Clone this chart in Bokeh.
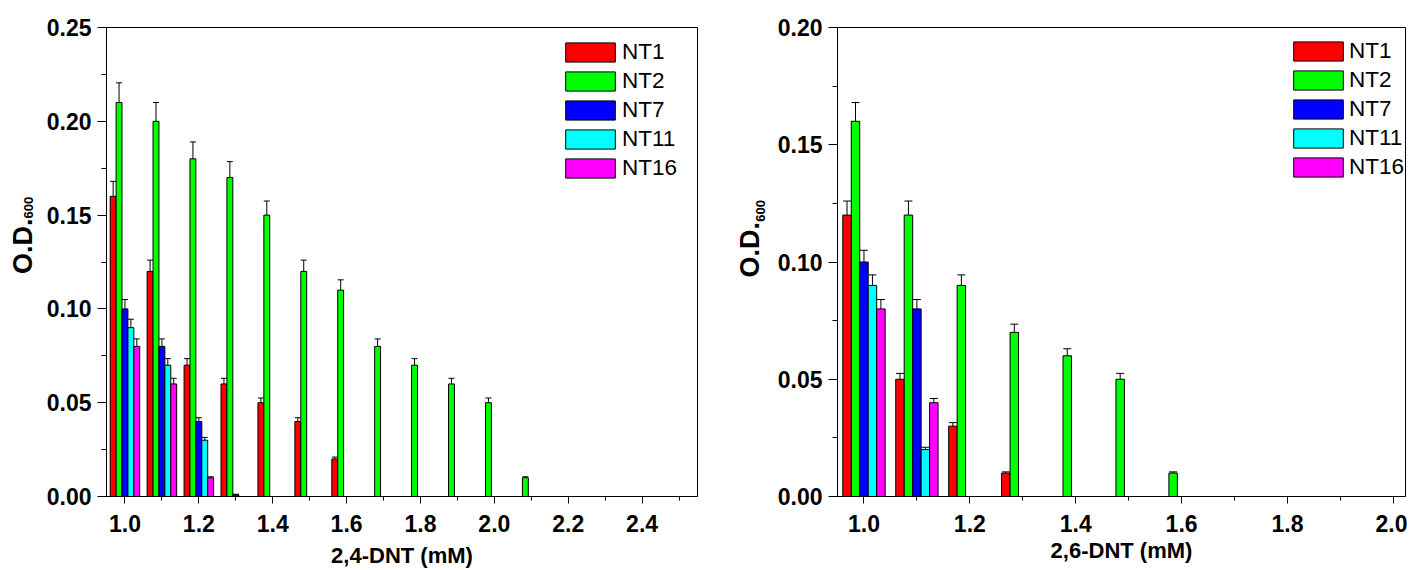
from bokeh.plotting import figure
from bokeh.models import (ColumnDataSource, Range1d, SingleIntervalTicker, NumeralTickFormatter,
                          Whisker, TeeHead, Legend, LegendItem, Label)
from bokeh.transform import dodge
from bokeh.layouts import row
from bokeh.embed import file_html
from bokeh.resources import INLINE

# ---------------- data ----------------
series_names = ["NT1", "NT2", "NT7", "NT11", "NT16"]
series_colors = ["#ff0000", "#00ff00", "#0000ff", "#00ffff", "#ff00ff"]

# 2,4-DNT panel
conc_24 = [1.0, 1.1, 1.2, 1.3, 1.4, 1.5, 1.6, 1.7, 1.8, 1.9, 2.0, 2.1]
od24_nt1 = [0.16, 0.12, 0.07, 0.06, 0.05, 0.04, 0.02]
od24_nt2 = [0.21, 0.20, 0.18, 0.17, 0.15, 0.12, 0.11, 0.08, 0.07, 0.06, 0.05, 0.01]
od24_nt7 = [0.10, 0.08, 0.04, 0.001]
od24_nt11 = [0.09, 0.07, 0.03]
od24_nt16 = [0.08, 0.06, 0.01]
err24_nt1 = [0.008, 0.006, 0.0035, 0.003, 0.0025, 0.002, 0.001]
err24_nt2 = [0.0105, 0.010, 0.009, 0.0085, 0.0075, 0.006, 0.0055, 0.004, 0.0035, 0.003, 0.0025, 0.0005]
err24_nt7 = [0.005, 0.004, 0.002, 0.0002]
err24_nt11 = [0.0045, 0.0035, 0.0015]
err24_nt16 = [0.004, 0.003, 0.0005]

# 2,6-DNT panel
conc_26 = [1.0, 1.1, 1.2, 1.3, 1.4, 1.5, 1.6]
od26_nt1 = [0.12, 0.05, 0.03, 0.01]
od26_nt2 = [0.16, 0.12, 0.09, 0.07, 0.06, 0.05, 0.01]
od26_nt7 = [0.10, 0.08]
od26_nt11 = [0.09, 0.02]
od26_nt16 = [0.08, 0.04]
err26_nt1 = [0.006, 0.0025, 0.0015, 0.0005]
err26_nt2 = [0.008, 0.006, 0.0045, 0.0035, 0.003, 0.0025, 0.0005]
err26_nt7 = [0.005, 0.004]
err26_nt11 = [0.0045, 0.001]
err26_nt16 = [0.004, 0.0018]

bar_w = 0.016
offsets = [-2 * bar_w, -bar_w, 0.0, bar_w, 2 * bar_w]

FONT = "Liberation Sans"
H = 570


def make_panel(conc, vals, errs, x_rng, y_rng, xtitle, width,
               mb_left, mb_right, mb_top, mb_bottom, legend_xy, legend_standoff,
               head_size, title_standoff):
    p = figure(width=width, height=H, output_backend="svg", toolbar_location=None,
               x_range=Range1d(*x_rng), y_range=Range1d(*y_rng),
               min_border_left=mb_left, min_border_right=mb_right,
               min_border_top=mb_top, min_border_bottom=mb_bottom)
    p.grid.visible = False
    p.outline_line_color = "black"
    p.outline_line_width = 1

    items = []
    for name, color, v, e, off in zip(series_names, series_colors, vals, errs, offsets):
        n = len(v)
        src = ColumnDataSource(dict(
            conc=conc[:n], od=v,
            upper=[a + b for a, b in zip(v, e)],
            lower=[a - b for a, b in zip(v, e)],
        ))
        r = p.vbar(x=dodge("conc", off, range=None), top="od", width=bar_w, bottom=0,
                   source=src, fill_color=color, line_color="black", line_width=1)
        w = Whisker(source=src, base=dodge("conc", off, range=None), upper="upper", lower="lower",
                    line_color="black", line_width=1,
                    upper_head=TeeHead(size=head_size, line_color="black", line_width=1),
                    lower_head=TeeHead(size=head_size, line_color="black", line_width=1))
        p.add_layout(w)
        items.append(LegendItem(label=name, renderers=[r]))

    leg = Legend(items=items, location=legend_xy, padding=0, margin=0, spacing=3,
                 glyph_width=62, glyph_height=24, label_height=19, label_standoff=legend_standoff,
                 label_text_font=FONT, label_text_font_size="22.5px", label_text_color="black",
                 border_line_alpha=0, background_fill_alpha=0)
    p.add_layout(leg, "center")

    xa = p.xaxis[0]
    xa.ticker = SingleIntervalTicker(interval=0.2, num_minor_ticks=2)
    xa.formatter = NumeralTickFormatter(format="0.0")
    xa.axis_label = xtitle
    xa.axis_label_text_font = FONT
    xa.axis_label_text_font_style = "bold"
    xa.axis_label_text_font_size = "22px"
    xa.axis_label_text_color = "black"
    xa.axis_label_standoff = title_standoff
    ya = p.yaxis[0]
    ya.ticker = SingleIntervalTicker(interval=0.05, num_minor_ticks=2)
    ya.formatter = NumeralTickFormatter(format="0.00")
    for ax, tout, mout, stand in ((xa, 7, 4, 11), (ya, 9, 5, 6)):
        ax.major_tick_in = 0
        ax.major_tick_out = tout
        ax.minor_tick_in = 0
        ax.minor_tick_out = mout
        ax.major_tick_line_color = "black"
        ax.minor_tick_line_color = "black"
        ax.axis_line_color = "black"
        ax.major_label_text_font = FONT
        ax.major_label_text_font_style = "bold"
        ax.major_label_text_font_size = "23px"
        ax.major_label_text_color = "black"
        ax.major_label_standoff = stand
    return p


def ytitle_strip(width, main_xy, sub_xy):
    """Narrow strip holding the rotated y-axis title O.D. with subscript 600."""
    f = figure(width=width, height=H, output_backend="svg", toolbar_location=None,
               x_range=Range1d(0, width), y_range=Range1d(0, H),
               x_axis_location=None, y_axis_location=None, min_border=0)
    f.grid.visible = False
    f.outline_line_color = None
    f.add_layout(Label(x=main_xy[0], y=main_xy[1], text="O.D.", angle=90, angle_units="deg",
                       text_align="center", text_baseline="middle", text_font=FONT,
                       text_font_style="bold", text_font_size="27px", text_color="black"))
    f.add_layout(Label(x=sub_xy[0], y=sub_xy[1], text="600", angle=90, angle_units="deg",
                       text_align="center", text_baseline="middle", text_font=FONT,
                       text_font_style="bold", text_font_size="13px", text_color="black"))
    return f


yl1 = ytitle_strip(36, (22, H - 266), (27.5, H - 219))
p1 = make_panel(conc_24,
                [od24_nt1, od24_nt2, od24_nt7, od24_nt11, od24_nt16],
                [err24_nt1, err24_nt2, err24_nt7, err24_nt11, err24_nt16],
                (0.95, 2.55), (0.0, 0.25), "2,4-DNT (mM)",
                width=699, mb_left=70, mb_right=38, mb_top=26, mb_bottom=H - 496,
                legend_xy=(453, 315), legend_standoff=1, head_size=6, title_standoff=8)
yl2 = ytitle_strip(35, (14, H - 270), (25, H - 223))
p2 = make_panel(conc_26,
                [od26_nt1, od26_nt2, od26_nt7, od26_nt11, od26_nt16],
                [err26_nt1, err26_nt2, err26_nt7, err26_nt11, err26_nt16],
                (0.95, 2.023), (0.0, 0.20), "2,6-DNT (mM)",
                width=637, mb_left=67, mb_right=2, mb_top=27, mb_bottom=H - 501,
                legend_xy=(450, 316), legend_standoff=0, head_size=8, title_standoff=3)

layout = row(yl1, p1, yl2, p2)
open("out.html", "w").write(file_html(layout, INLINE))
